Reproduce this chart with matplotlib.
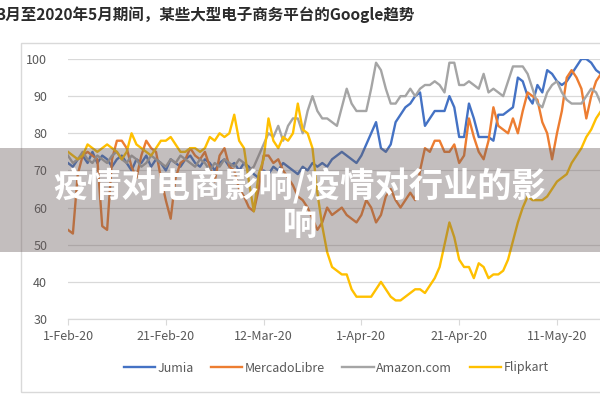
import numpy as np
import pandas as pd
import matplotlib
matplotlib.use('Agg')
import matplotlib.pyplot as plt
from matplotlib.patches import Rectangle

# Google trend values, one per day starting 1-Feb-2020
start_date = '2020-02-01'
jumia = [72, 71, 73, 74, 72, 75, 72, 74, 73, 71, 73, 74, 72, 70, 73, 72, 74, 71, 73, 72,
         70, 73, 72, 71, 73, 74, 72, 71, 73, 72, 70, 72, 73, 71, 72, 70, 72, 71, 69, 68,
         70, 69, 71, 70, 72, 71, 70, 69, 71, 70, 72, 71, 72, 71, 73, 74, 75, 74, 73, 72,
         74, 77, 80, 83, 76, 75, 77, 83, 85, 87, 88, 90, 91, 82, 84, 86, 86, 86, 90, 87,
         79, 79, 88, 84, 79, 79, 79, 78, 85, 85, 86, 87, 95, 94, 90, 88, 93, 91, 97, 96,
         94, 93, 94, 96, 98, 100, 100, 99, 97, 96]
mercadolibre = [54, 53, 69, 74, 75, 74, 73, 55, 54, 73, 78, 78, 76, 71, 68, 74, 78, 76, 75, 68,
                62, 57, 68, 72, 73, 76, 74, 73, 75, 71, 67, 74, 76, 71, 70, 65, 63, 60, 59, 65,
                74, 74, 72, 73, 70, 68, 66, 63, 62, 60, 57, 54, 56, 60, 58, 59, 60, 58, 57, 56,
                58, 62, 60, 56, 58, 63, 65, 62, 60, 62, 64, 62, 70, 76, 75, 78, 78, 75, 75, 77,
                72, 74, 84, 79, 75, 73, 78, 87, 82, 81, 80, 84, 80, 86, 91, 90, 89, 83, 80, 73,
                80, 86, 95, 97, 95, 92, 84, 90, 94, 96]
amazon = [74, 72, 73, 75, 73, 72, 74, 73, 72, 74, 75, 73, 72, 74, 73, 71, 72, 74, 73, 72,
          71, 73, 72, 74, 73, 72, 71, 73, 72, 70, 72, 71, 73, 72, 71, 73, 72, 70, 71, 74,
          77, 80, 79, 82, 78, 82, 84, 84, 80, 86, 90, 86, 84, 84, 83, 82, 87, 92, 88, 86,
          86, 86, 92, 99, 97, 92, 88, 88, 90, 90, 92, 90, 92, 93, 93, 94, 93, 91, 99, 99,
          93, 93, 94, 93, 92, 96, 91, 92, 91, 90, 94, 98, 98, 98, 96, 92, 88, 87, 91, 93,
          94, 91, 89, 88, 88, 88, 90, 92, 91, 88]
flipkart = [75, 74, 73, 74, 77, 76, 75, 76, 77, 76, 75, 73, 75, 80, 77, 76, 75, 74, 76, 78,
            78, 79, 77, 75, 75, 76, 76, 75, 76, 79, 78, 80, 79, 80, 85, 78, 76, 67, 59, 69,
            73, 84, 78, 76, 79, 78, 80, 88, 81, 80, 76, 64, 55, 48, 44, 43, 42, 42, 38, 36,
            36, 36, 36, 38, 40, 38, 36, 35, 35, 36, 37, 38, 38, 37, 39, 41, 44, 50, 56, 52,
            46, 44, 44, 41, 45, 44, 41, 42, 42, 43, 46, 51, 56, 60, 63, 62, 62, 62, 63, 65,
            67, 68, 69, 72, 74, 76, 79, 81, 84, 86]

series_names = ['Jumia', 'MercadoLibre', 'Amazon.com', 'Flipkart']
series_colors = ['#4472C4', '#ED7D31', '#A5A5A5', '#FFC000']
y_ticks = [30, 40, 50, 60, 70, 80, 90, 100]
x_tick_labels = ['1-Feb-20', '21-Feb-20', '12-Mar-20', '1-Apr-20', '21-Apr-20', '11-May-20']

title = '3月至2020年5月期间，某些大型电子商务平台的Google趋势'
overlay_text = '疫情对电商影响/疫情对行业的影\n响'

plt.rcParams['font.family'] = ['Noto Sans CJK SC', 'DejaVu Sans']

dates = pd.date_range(start_date, periods=len(jumia))
tick_dates = pd.date_range(start_date, periods=len(x_tick_labels), freq='20D')

fig = plt.figure(figsize=(6, 4), dpi=100)
ax = fig.add_axes([68 / 600, 1 - 319 / 400, 1 - 68 / 600, 260 / 400])

for name, vals, col in zip(series_names, [jumia, mercadolibre, amazon, flipkart], series_colors):
    ax.plot(dates, vals, color=col, linewidth=1.7, label=name)

ax.set_ylim(30, 100)
ax.set_xlim(dates[0], dates[0] + pd.Timedelta(days=108.8))
ax.set_yticks(y_ticks)
ax.set_xticks(tick_dates)
ax.set_xticklabels(x_tick_labels)
ax.grid(axis='y', color='#D9D9D9', linewidth=0.9)
ax.set_axisbelow(True)
for s in ['top', 'right', 'left']:
    ax.spines[s].set_visible(False)
ax.spines['bottom'].set_color('#D9D9D9')
ax.spines['bottom'].set_linewidth(0.9)
ax.tick_params(axis='y', length=0, pad=15, labelsize=9, labelcolor='#595959')
ax.tick_params(axis='x', length=4, color='#D9D9D9', pad=4, labelsize=9, labelcolor='#595959')

# chart border
fig.patches.append(Rectangle((21 / 600, 1 - 392 / 400), 1.0, 349 / 400, transform=fig.transFigure,
                             fill=False, edgecolor='#D9D9D9', linewidth=1.0))

fig.legend(loc='center', bbox_to_anchor=(0.56, 1 - 368 / 400), ncol=4, frameon=False,
           fontsize=9, handlelength=2.5, handletextpad=0.2, columnspacing=1.4,
           labelcolor='#595959')

fig.text(-3 / 600, 1 - 15 / 400, title, fontsize=11.2, fontweight='bold', color='#2b2b2b',
         ha='left', va='center')

# grey overlay band with white caption
fig.patches.append(Rectangle((0, 1 - 252 / 400), 1, 104 / 400, transform=fig.transFigure,
                             facecolor='#6b5e5e', alpha=0.4, edgecolor='none', zorder=5))
fig.text(0.5, 1 - 205 / 400, overlay_text, fontsize=24.7, fontweight='bold', color='white',
         ha='center', va='center', multialignment='center', linespacing=1.1, zorder=6)

plt.savefig('out.png', dpi=100)
